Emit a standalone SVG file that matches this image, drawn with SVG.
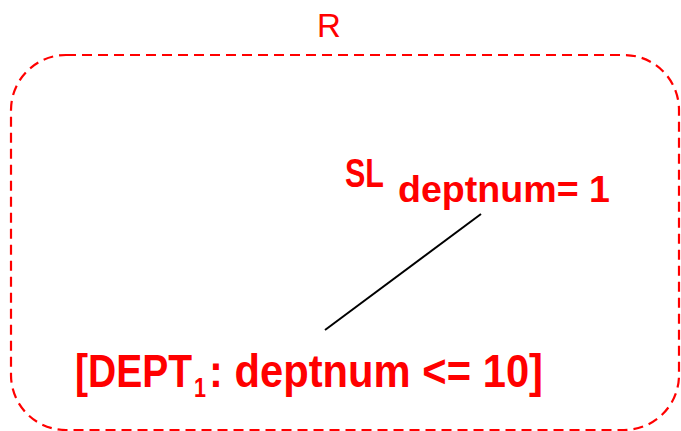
<svg xmlns="http://www.w3.org/2000/svg" width="681" height="431" viewBox="0 0 681 431">
<style>
.lbl{font-family:"Liberation Sans",Arial,sans-serif;fill:#ff0000}
.b{font-weight:bold}
.frame{fill:none;stroke:#ff0000;stroke-width:2.2;stroke-dasharray:10,6}
.edge{stroke:#000;stroke-width:2}
</style>
<rect width="681" height="431" fill="#fff"/>
<g id="R">
<rect class="frame" x="11" y="55" width="668" height="375" rx="55" ry="55"/>
<text class="lbl" x="329" y="37" font-size="33" text-anchor="middle">R</text>
</g>
<g id="connectors">
<line class="edge" x1="481" y1="214" x2="325" y2="330"/>
</g>
<g id="SL">
<text class="lbl b" x="345" y="187" font-size="41" textLength="39" lengthAdjust="spacingAndGlyphs">SL</text>
<text class="lbl b" x="398" y="202" font-size="37" textLength="212" lengthAdjust="spacingAndGlyphs">deptnum= 1</text>
</g>
<g id="DEPT1">
<text class="lbl b" x="75" y="387" font-size="47" textLength="117" lengthAdjust="spacingAndGlyphs">[DEPT</text>
<text class="lbl b" x="194" y="397" font-size="27" textLength="12" lengthAdjust="spacingAndGlyphs">1</text>
<text class="lbl b" x="209" y="387" font-size="47" textLength="334" lengthAdjust="spacingAndGlyphs">: deptnum &lt;= 10]</text>
</g>
</svg>
